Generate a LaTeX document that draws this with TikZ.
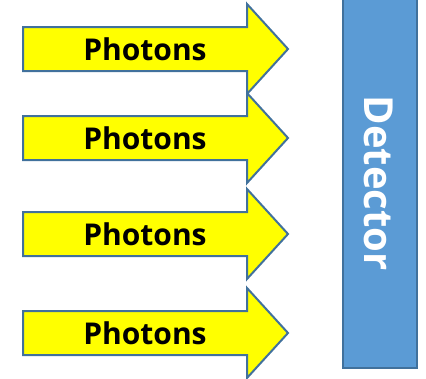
\documentclass[tikz,border=0pt]{standalone}
\usepackage{fontspec}
\setmainfont{Open Sans}
\definecolor{arrowyellow}{HTML}{FFFF00}
\definecolor{edgeblue}{HTML}{41719C}
\definecolor{detblue}{HTML}{5B9BD5}
\tikzset{
  photonarrow/.style={draw=edgeblue, fill=arrowyellow, line width=2pt, line join=miter},
  photontext/.style={font=\fontsize{30}{36}\selectfont\bfseries, text=black, inner sep=0pt},
  detectorbox/.style={draw=edgeblue, fill=detblue, line width=2pt},
  dettext/.style={font=\fontsize{40}{48}\selectfont\bfseries, text=white, inner sep=0pt}
}
\begin{document}
\begin{tikzpicture}[x=1pt,y=-1pt]
\useasboundingbox (0,0) rectangle (426,378);
\foreach \c/\n in {49/1,138/2,234/3,333/4}{
  \draw[photonarrow] (23,\c-22) -- (247,\c-22) -- (247,\c-45) -- (288,\c) -- (247,\c+45) -- (247,\c+22) -- (23,\c+22) -- cycle;
  \node[photontext] (p\n) at (145,\c) {Photons};
}
\draw[detectorbox] (343,-5) rectangle (417,368);
\node[dettext, rotate=-90] (det) at (379,183) {Detector};
\end{tikzpicture}
\end{document}
